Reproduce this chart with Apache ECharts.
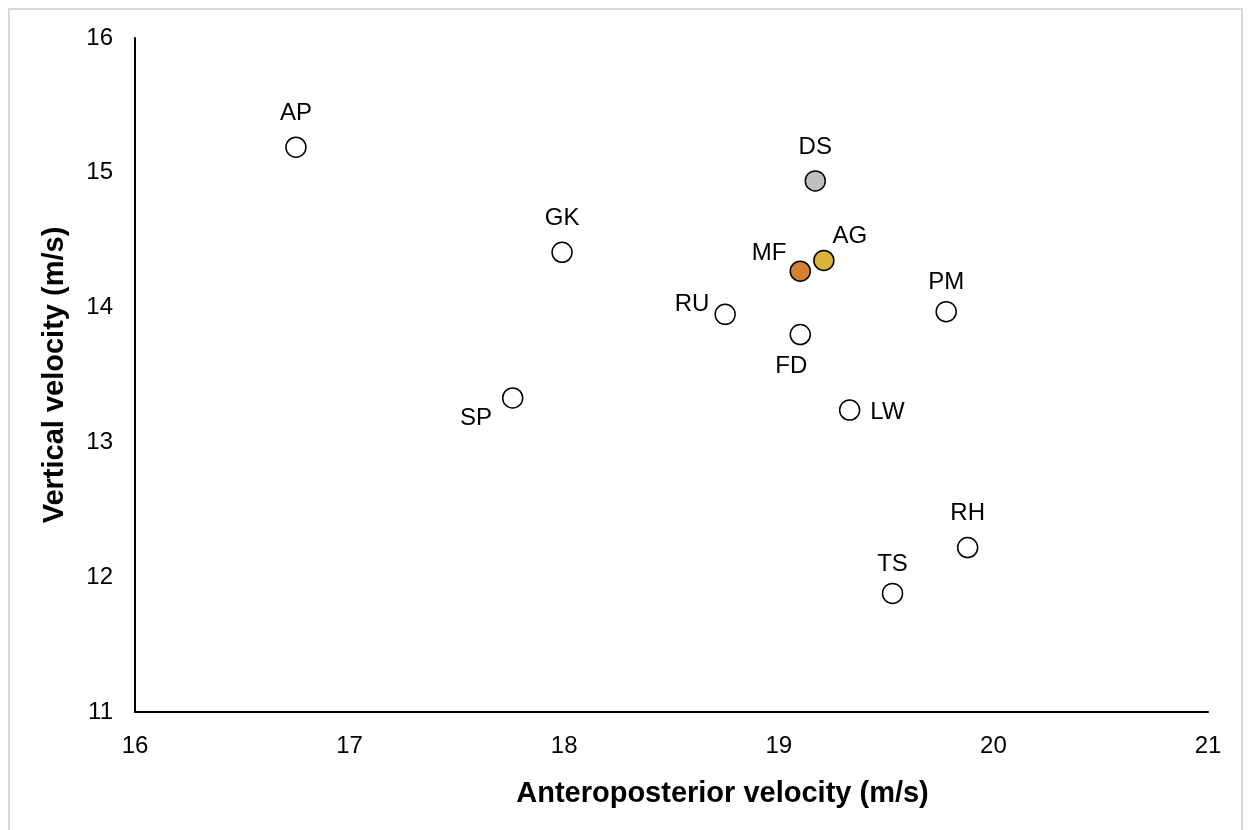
<!DOCTYPE html>
<html>
<head>
<meta charset="utf-8">
<script src="https://cdn.jsdelivr.net/npm/echarts@6/dist/echarts.min.js"></script>
<style>
  html, body { margin: 0; padding: 0; background: #fff; }
  #box { position: absolute; left: 8px; top: 8px; width: 1235px; height: 830px; border: 2px solid #d9d9d9; box-sizing: border-box; }
  #main { width: 1251px; height: 830px; position: absolute; left: 0; top: 0; }
</style>
</head>
<body>
<div id="box"></div>
<div id="main"></div>
<script>
// data
var names = ['AP', 'GK', 'SP', 'RU', 'FD', 'MF', 'AG', 'DS', 'PM', 'LW', 'RH', 'TS'];
var apVel = [16.75, 17.99, 17.76, 18.75, 19.10, 19.10, 19.21, 19.17, 19.78, 19.33, 19.88, 19.53];
var vertVel = [15.19, 14.41, 13.33, 13.95, 13.80, 14.27, 14.35, 14.94, 13.97, 13.24, 12.22, 11.88];
var fills = ['#ffffff', '#ffffff', '#ffffff', '#ffffff', '#ffffff', '#d4822f', '#d9b33a', '#bfbfbf', '#ffffff', '#ffffff', '#ffffff', '#ffffff'];
var labelPos = {
  AP: ['top', [0, -6]], GK: ['top', [0, -6]], SP: ['left', [-5, 20]], RU: ['left', [0, -10]],
  FD: ['bottom', [-9, 4]], MF: ['left', [2, -18]], AG: ['top', [26, 4]], DS: ['top', [0, -6]],
  PM: ['top', [0, -2]], LW: ['right', [5, 2]], RH: ['top', [0, -6]], TS: ['top', [0, -1]]
};

var chart = echarts.init(document.getElementById('main'));
var pts = names.map(function (n, i) {
  return {
    value: [apVel[i], vertVel[i]],
    name: n,
    itemStyle: { color: fills[i] },
    label: { position: labelPos[n][0], offset: labelPos[n][1] }
  };
});

chart.setOption({
  animation: false,
  grid: { left: 135, right: 43, top: 38, bottom: 118 },
  xAxis: {
    type: 'value', min: 16, max: 21, interval: 1,
    name: 'Anteroposterior velocity (m/s)', nameLocation: 'middle', nameGap: 67,
    nameTextStyle: { fontFamily: 'Liberation Sans', fontSize: 29, fontWeight: 'bold', color: '#000', padding: [0, 0, 0, 102] },
    axisLine: { lineStyle: { color: '#000', width: 2 } },
    axisTick: { show: false },
    splitLine: { show: false },
    axisLabel: { fontFamily: 'Liberation Sans', fontSize: 24, color: '#000', margin: 22 }
  },
  yAxis: {
    type: 'value', min: 11, max: 16, interval: 1,
    name: 'Vertical velocity (m/s)', nameLocation: 'middle', nameGap: 66,
    nameTextStyle: { fontFamily: 'Liberation Sans', fontSize: 29, fontWeight: 'bold', color: '#000' },
    axisLine: { show: true, lineStyle: { color: '#000', width: 2 } },
    axisTick: { show: false },
    splitLine: { show: false },
    axisLabel: { fontFamily: 'Liberation Sans', fontSize: 24, color: '#000', margin: 22 }
  },
  series: [{
    type: 'scatter',
    symbolSize: 20,
    itemStyle: { borderColor: '#000', borderWidth: 1.5, opacity: 1 },
    label: {
      show: true, formatter: '{b}',
      fontFamily: 'Liberation Sans', fontSize: 24, color: '#000'
    },
    data: pts
  }]
});
</script>
</body>
</html>
